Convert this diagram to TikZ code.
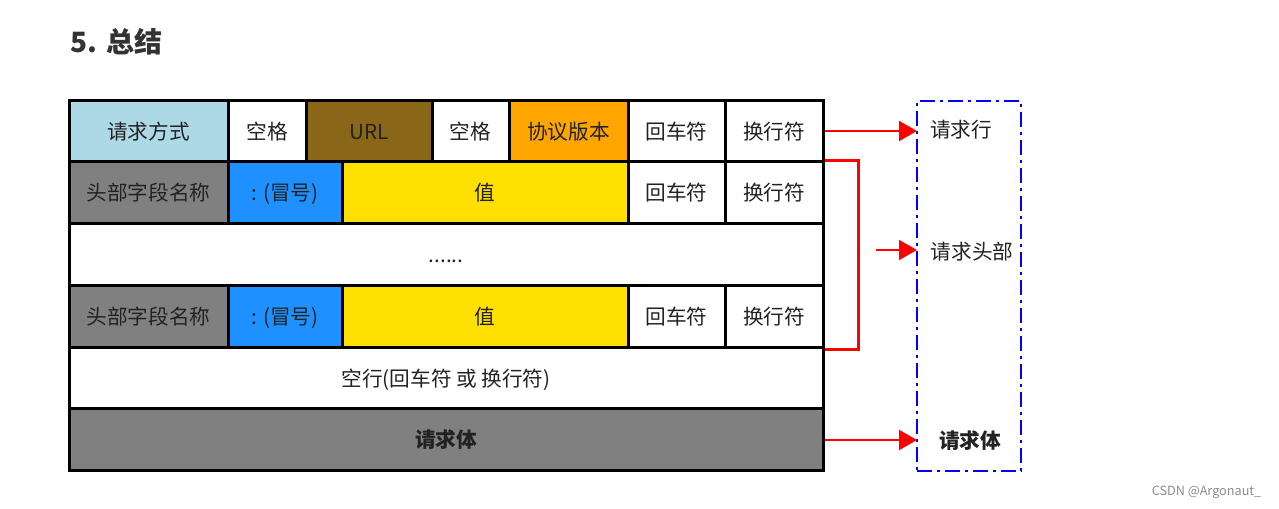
\documentclass[tikz,border=0pt]{standalone}
\usepackage{fontspec}
\setmainfont{Noto Sans CJK SC}
\usetikzlibrary{arrows.meta,fit}
\definecolor{cblue}{HTML}{ADD8E6}
\definecolor{curl}{HTML}{8A6618}
\definecolor{corange}{HTML}{FFA500}
\definecolor{cgray}{HTML}{808080}
\definecolor{ccolon}{HTML}{1E90FF}
\definecolor{cval}{HTML}{FFE000}
\definecolor{ctext}{HTML}{222222}
\newcommand\mycell[5][]{\node[cellbox, fill=#3, fit={#4}] (#2) {};
  \node[lbl, #1] (#2t) at (#2.center) {#5};}
\begin{document}
\begin{tikzpicture}[x=0.75pt,y=-0.75pt,
  cellfont/.style={font=\fontsize{15.5}{17}\selectfont},
  cellbox/.style={draw=black, line width=2.25pt, inner sep=0pt},
  lbl/.style={text=ctext, cellfont, inner sep=0pt, text height=12pt, text depth=0pt},
  redline/.style={draw=red, line width=1.6pt},
  redarrow/.style={redline, -{Triangle[length=13.5pt,width=15pt]}},
  groupbox/.style={draw=blue, line width=2.2pt, dash pattern=on 11pt off 4pt on 2pt off 4pt}]
\useasboundingbox (0,0) rectangle (1279,509);
\node[anchor=west, text=black!80, font=\fontsize{21}{24}\selectfont\bfseries] (title) at (66,42) {5. 总结};
% row 1
\mycell{r1a}{cblue}{(69,101) (228,162)}{请求方式}
\mycell{r1b}{white}{(228,101) (306,162)}{空格}
\mycell{r1c}{curl}{(306,101) (432,162)}{URL}
\mycell{r1d}{white}{(432,101) (509,162)}{空格}
\mycell{r1e}{corange}{(509,101) (628,162)}{协议版本}
\mycell{r1f}{white}{(628,101) (725,162)}{回车符}
\mycell{r1g}{white}{(725,101) (823,162)}{换行符}
% row 2
\mycell{r2a}{cgray}{(69,162) (228,224)}{头部字段名称}
\mycell{r2b}{ccolon}{(228,162) (342,224)}{: (冒号)}
\mycell{r2c}{cval}{(342,162) (628,224)}{值}
\mycell{r2d}{white}{(628,162) (725,224)}{回车符}
\mycell{r2e}{white}{(725,162) (823,224)}{换行符}
% row 3
\mycell{r3}{white}{(69,224) (823,286)}{......}
% row 4
\mycell{r4a}{cgray}{(69,286) (228,348)}{头部字段名称}
\mycell{r4b}{ccolon}{(228,286) (342,348)}{: (冒号)}
\mycell{r4c}{cval}{(342,286) (628,348)}{值}
\mycell{r4d}{white}{(628,286) (725,348)}{回车符}
\mycell{r4e}{white}{(725,286) (823,348)}{换行符}
% row 5
\mycell{r5}{white}{(69,348) (823,409)}{空行(回车符 或 换行符)}
% row 6
\mycell[font=\fontsize{15.5}{17}\selectfont\bfseries]{r6}{cgray}{(69,409) (823,471)}{请求体}
% right group box
\node[groupbox, inner sep=0pt, fit={(917,101) (1021,471)}] (grp) {};
\node[lbl] (lline) at (961,130) {请求行};
\node[lbl] (lhead) at (972,252) {请求头部};
\node[lbl, font=\fontsize{15.5}{17}\selectfont\bfseries] (lbody) at (970,441) {请求体};
\coordinate (hin) at (917,250);
\coordinate (hout) at (876,250);
% arrows
\draw[redarrow] (r1g.east |- 0,131) -- (917,131);
\draw[redline] (r2e.north east) -- ++(34,0) |- (r4e.south east);
\draw[redarrow] (hout) -- (hin);
\draw[redarrow] (r6.east |- 0,440) -- (917,440);
\node[anchor=east, text=black!45, font=\fontsize{9.5}{11}\selectfont] (wm) at (1266,492) {CSDN @Argonaut\_};
\end{tikzpicture}
\end{document}
